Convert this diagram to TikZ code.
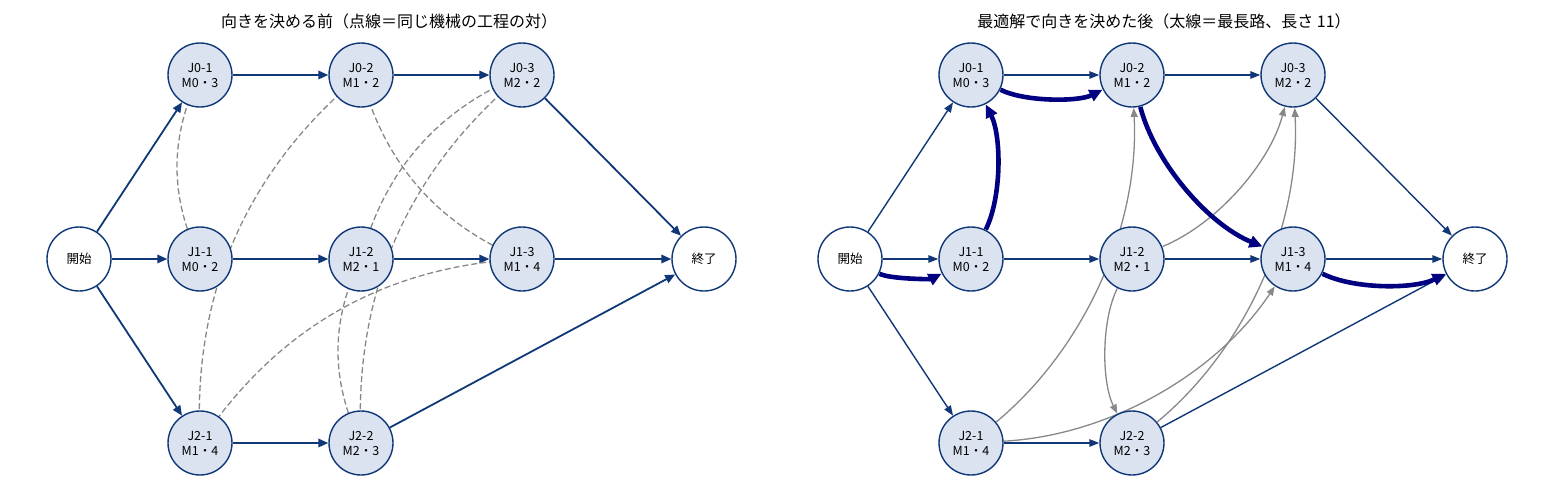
\documentclass[tikz,border=0pt]{standalone}
\usepackage{fontspec}
\setmainfont{Noto Sans CJK JP}
\usetikzlibrary{arrows.meta,calc}
\pgfdeclarelayer{bg}
\pgfsetlayers{bg,main}
\definecolor{nodeedge}{RGB}{16,56,120}
\definecolor{nodefill}{RGB}{219,227,240}
\definecolor{arrowblue}{RGB}{16,56,120}
\definecolor{critical}{RGB}{0,0,128}
\definecolor{machgray}{RGB}{136,136,136}
\tikzset{
  opnode/.style={circle, draw=nodeedge, fill=nodefill, line width=1.4pt, minimum size=64pt, inner sep=0pt, align=center, font=\fontsize{12.5}{15}\selectfont},
  termnode/.style={opnode, fill=white},
  conj/.style={draw=arrowblue, line width=1.8pt, -{Triangle[length=10pt,width=8.5pt]}},
  conjr/.style={draw=arrowblue, line width=1.4pt, -{Triangle[length=10pt,width=7.5pt]}},
  pairline/.style={draw=machgray, line width=1.3pt, dash pattern=on 6pt off 3pt},
  disj/.style={draw=machgray, line width=1.3pt, -{Triangle[length=9pt,width=7pt]}, shorten <=33pt, shorten >=33pt},
  crit/.style={draw=critical, line width=4.6pt, -{Triangle[length=13pt,width=12pt]}, shorten <=33pt, shorten >=33pt},
  titletext/.style={font=\fontsize{16}{18}\selectfont, anchor=base, inner sep=0pt},
}
\newcommand\jsarc[3]{\draw[#1] (#2.center) .. controls ($(#2.center)!0.3727!-26.57:(#3.center)$) and ($(#3.center)!0.3727!26.57:(#2.center)$) .. (#3.center);}
\begin{document}
\begin{tikzpicture}[x=1pt,y=-1pt]
\useasboundingbox (0,0) rectangle (1551,496);
% titles
\node[titletext] (lt) at (389,27.5) {向きを決める前（点線＝同じ機械の工程の対）};
\node[titletext] (rt) at (1164,27.5) {最適解で向きを決めた後（太線＝最長路、長さ 11）};
% left nodes
\node[termnode] (lS) at (79,259) {開始};
\node[opnode] (l01) at (200,75) {J0-1\\M0・3};
\node[opnode] (l02) at (361,75) {J0-2\\M1・2};
\node[opnode] (l03) at (522,75) {J0-3\\M2・2};
\node[opnode] (l11) at (200,259) {J1-1\\M0・2};
\node[opnode] (l12) at (361,259) {J1-2\\M2・1};
\node[opnode] (l13) at (522,259) {J1-3\\M1・4};
\node[opnode] (l21) at (200,443) {J2-1\\M1・4};
\node[opnode] (l22) at (361,443) {J2-2\\M2・3};
\node[termnode] (lE) at (704,259) {終了};
% right nodes
\node[termnode] (rS) at (850,259) {開始};
\node[opnode] (r01) at (971,75) {J0-1\\M0・3};
\node[opnode] (r02) at (1132,75) {J0-2\\M1・2};
\node[opnode] (r03) at (1293,75) {J0-3\\M2・2};
\node[opnode] (r11) at (971,259) {J1-1\\M0・2};
\node[opnode] (r12) at (1132,259) {J1-2\\M2・1};
\node[opnode] (r13) at (1293,259) {J1-3\\M1・4};
\node[opnode] (r21) at (971,443) {J2-1\\M1・4};
\node[opnode] (r22) at (1132,443) {J2-2\\M2・3};
\node[termnode] (rE) at (1475,259) {終了};
\begin{pgfonlayer}{bg}
% left: job order
\draw[conj] (lS) -- (l01);
\draw[conj] (lS) -- (l11);
\draw[conj] (lS) -- (l21);
\draw[conj] (l01) -- (l02);
\draw[conj] (l02) -- (l03);
\draw[conj] (l03) -- (lE);
\draw[conj] (l11) -- (l12);
\draw[conj] (l12) -- (l13);
\draw[conj] (l13) -- (lE);
\draw[conj] (l21) -- (l22);
\draw[conj] (l22) -- (lE);
% left: machine pairs
\jsarc{pairline}{l01}{l11}
\jsarc{pairline}{l02}{l13}
\jsarc{pairline}{l02}{l21}
\jsarc{pairline}{l13}{l21}
\jsarc{pairline}{l03}{l12}
\jsarc{pairline}{l03}{l22}
\jsarc{pairline}{l12}{l22}
% right: job order
\draw[conjr] (rS) -- (r01);
\draw[conjr] (rS) -- (r11);
\draw[conjr] (rS) -- (r21);
\draw[conjr] (r01) -- (r02);
\draw[conjr] (r02) -- (r03);
\draw[conjr] (r03) -- (rE);
\draw[conjr] (r11) -- (r12);
\draw[conjr] (r12) -- (r13);
\draw[conjr] (r13) -- (rE);
\draw[conjr] (r21) -- (r22);
\draw[conjr] (r22) -- (rE);
% right: oriented machine arcs
\jsarc{disj}{r21}{r02}
\jsarc{disj}{r21}{r13}
\jsarc{disj}{r12}{r03}
\jsarc{disj}{r22}{r03}
\jsarc{disj}{r12}{r22}
% right: critical path
\jsarc{crit}{rS}{r11}
\jsarc{crit}{r11}{r01}
\jsarc{crit}{r01}{r02}
\jsarc{crit}{r02}{r13}
\jsarc{crit}{r13}{rE}
\end{pgfonlayer}
\end{tikzpicture}
\end{document}
